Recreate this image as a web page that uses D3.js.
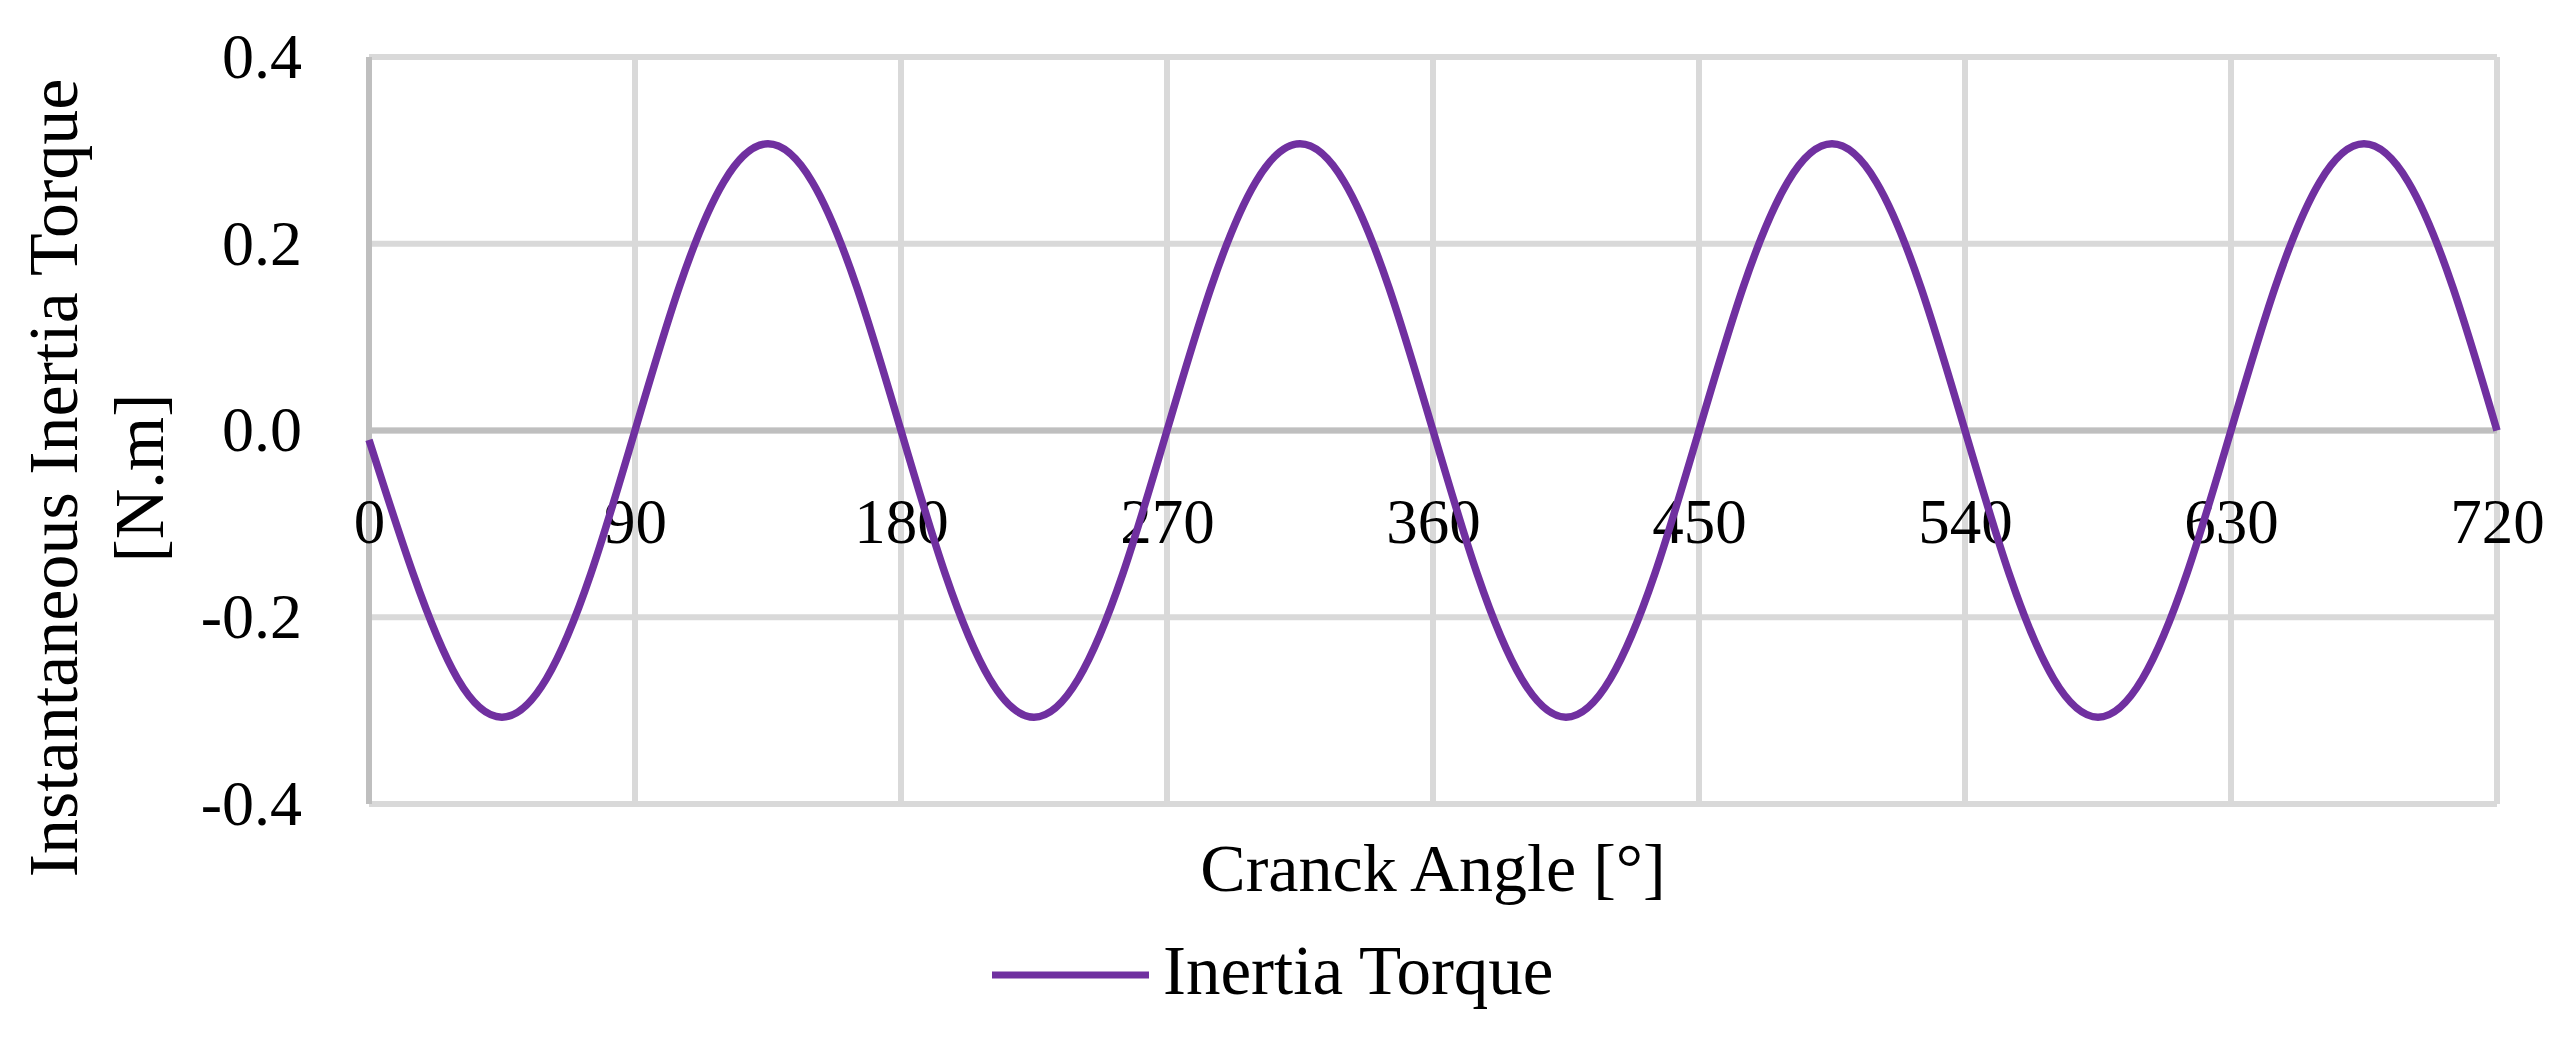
<!DOCTYPE html>
<html>
<head>
<meta charset="utf-8">
<script src="https://cdn.jsdelivr.net/npm/d3@7"></script>
<style>
  body { margin: 0; background: #fff; }
  text { font-family: "Liberation Serif", "Times New Roman", serif; fill: #000; }
</style>
</head>
<body>
<div id="chart"></div>
<script>
// crank angle samples [deg] and inertia torque [N.m]
const crankAngle = [0, 15, 30, 45, 60, 75, 90, 105, 120, 135, 150, 165,
  180, 195, 210, 225, 240, 255, 270, 285, 300, 315, 330, 345,
  360, 375, 390, 405, 420, 435, 450, 465, 480, 495, 510, 525,
  540, 555, 570, 585, 600, 615, 630, 645, 660, 675, 690, 705, 720];
const inertiaTorque = [-0.01, -0.154, -0.266, -0.307, -0.266, -0.154, 0.0, 0.154, 0.266, 0.307, 0.266, 0.154,
  0.0, -0.154, -0.266, -0.307, -0.266, -0.154, 0.0, 0.154, 0.266, 0.307, 0.266, 0.154,
  0.0, -0.154, -0.266, -0.307, -0.266, -0.154, 0.0, 0.154, 0.266, 0.307, 0.266, 0.154,
  0.0, -0.154, -0.266, -0.307, -0.266, -0.154, 0.0, 0.154, 0.266, 0.307, 0.266, 0.154, 0.0];
const angleTicks = [0, 90, 180, 270, 360, 450, 540, 630, 720];
const torqueTicks = [-0.4, -0.2, 0.0, 0.2, 0.4];
const seriesName = "Inertia Torque";

const W = 2564, H = 1040;
const plot = { left: 369, right: 2497, top: 57, bottom: 804 };

const svg = d3.select("#chart").append("svg")
  .attr("width", W)
  .attr("height", H);

const x = d3.scaleLinear().domain([0, 720]).range([plot.left, plot.right]);
const y = d3.scaleLinear().domain([-0.4, 0.4]).range([plot.bottom, plot.top]);

// gridlines
svg.append("g").selectAll("line.h")
  .data(torqueTicks)
  .enter().append("line")
  .attr("x1", plot.left).attr("x2", plot.right)
  .attr("y1", d => y(d)).attr("y2", d => y(d))
  .attr("stroke", "#d9d9d9").attr("stroke-width", 6);

svg.append("g").selectAll("line.v")
  .data(angleTicks)
  .enter().append("line")
  .attr("x1", d => x(d)).attr("x2", d => x(d))
  .attr("y1", plot.top).attr("y2", plot.bottom)
  .attr("stroke", "#d9d9d9").attr("stroke-width", 6);

// axis lines (darker)
svg.append("line")
  .attr("x1", plot.left).attr("x2", plot.right)
  .attr("y1", y(0)).attr("y2", y(0))
  .attr("stroke", "#bfbfbf").attr("stroke-width", 6);
svg.append("line")
  .attr("x1", plot.left).attr("x2", plot.left)
  .attr("y1", plot.top).attr("y2", plot.bottom)
  .attr("stroke", "#bfbfbf").attr("stroke-width", 6);

// tick labels
const yAxis = svg.append("g")
  .attr("transform", "translate(" + plot.left + ",0)")
  .call(d3.axisLeft(y).tickValues(torqueTicks).tickSize(0).tickPadding(67)
    .tickFormat(d => d.toFixed(1)));
yAxis.select(".domain").remove();
yAxis.selectAll("text")
  .style("font-family", "'Liberation Serif', serif")
  .style("font-size", "64px")
  .attr("dy", "0.32em");

const xAxis = svg.append("g")
  .attr("transform", "translate(0," + y(0) + ")")
  .call(d3.axisBottom(x).tickValues(angleTicks).tickSize(0).tickFormat(d => d));
xAxis.select(".domain").remove();
xAxis.selectAll("text")
  .style("font-family", "'Liberation Serif', serif")
  .style("font-size", "63px")
  .attr("y", 112)
  .attr("dy", 0);

// the curve
const line = d3.line()
  .x((d, i) => x(crankAngle[i]))
  .y(d => y(d))
  .curve(d3.curveNatural);

svg.append("path")
  .datum(inertiaTorque)
  .attr("fill", "none")
  .attr("stroke", "#7030a0")
  .attr("stroke-width", 7.5)
  .attr("d", line);

// axis titles
svg.append("text")
  .attr("x", 1433)
  .attr("y", 891)
  .style("text-anchor", "middle")
  .style("font-size", "68px")
  .text("Cranck Angle [°]");

const yTitle = svg.append("text")
  .attr("transform", "translate(77,478) rotate(-90)")
  .style("text-anchor", "middle")
  .style("font-size", "70px");
yTitle.append("tspan").attr("x", 0).attr("y", 0).text("Instantaneous Inertia Torque");
yTitle.append("tspan").attr("x", 0).attr("y", 86).text("[N.m]");

// legend
svg.append("line")
  .attr("x1", 992).attr("x2", 1149)
  .attr("y1", 975).attr("y2", 975)
  .attr("stroke", "#7030a0").attr("stroke-width", 7);
svg.append("text")
  .attr("x", 1163)
  .attr("y", 994)
  .style("font-size", "69px")
  .text(seriesName);
</script>
</body>
</html>
